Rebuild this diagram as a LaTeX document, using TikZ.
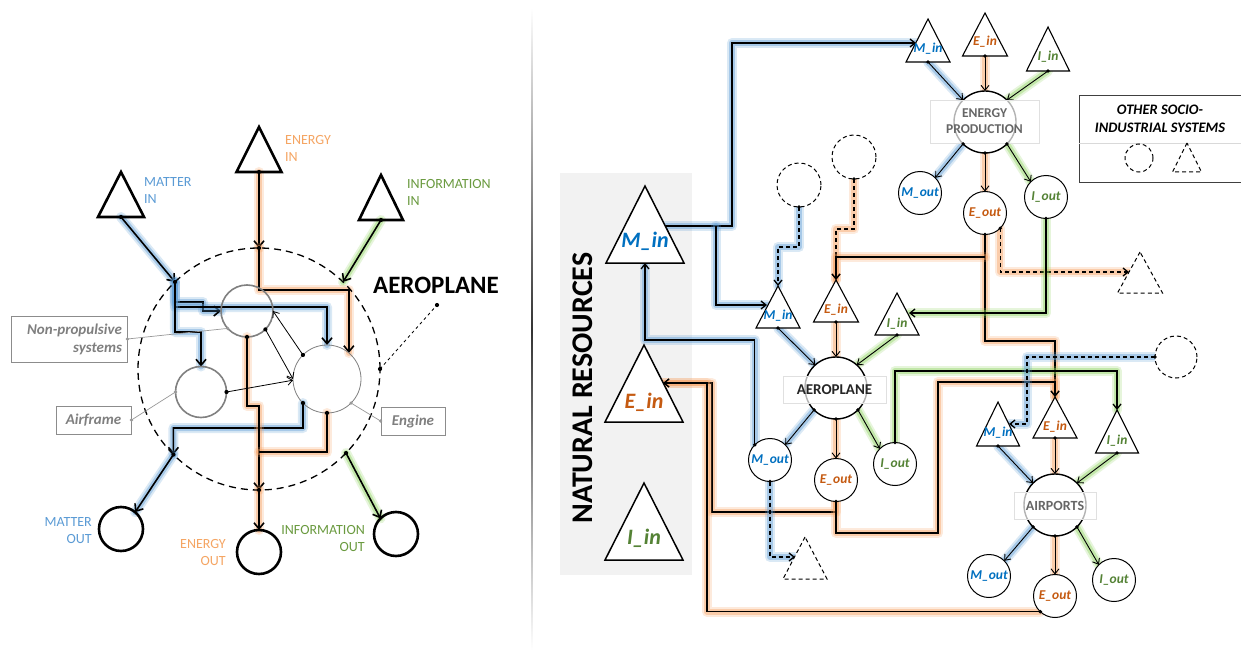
\documentclass[tikz,border=0pt]{standalone}
\usepackage{fontspec}
\setmainfont{Carlito}
\usetikzlibrary{arrows.meta}
\pgfdeclarelayer{bottom}
\pgfdeclarelayer{background}
\pgfsetlayers{bottom,background,main}
\definecolor{cB}{HTML}{5B9BD5}
\definecolor{cO}{HTML}{F5A563}
\definecolor{cG}{HTML}{6A9A3F}
\definecolor{dB}{HTML}{0070C0}
\definecolor{dO}{HTML}{C55A11}
\definecolor{dG}{HTML}{548235}
\definecolor{gB}{HTML}{5B9BD5}
\definecolor{gO}{HTML}{F7A060}
\definecolor{gG}{HTML}{8ED45E}
\definecolor{txtgray}{HTML}{7F7F7F}
\newcommand\fs[2]{\fontsize{#1}{#2}\selectfont}
\newcommand\mytri[6]{\draw[#6] (#2,#3) -- (#2-#5,#4) -- (#2+#5,#4) -- cycle;
  \coordinate (#1-a) at (#2,#3); \coordinate (#1-b) at (#2,#4);}
\newcommand\dt[1]{\fill (#1) circle (2.1pt);}
\tikzset{
  gl/.style={preaction={draw=#1,solid,arrows=-,line width=10pt,opacity=.22,line cap=round,line join=round},
             preaction={draw=#1,solid,arrows=-,line width=6pt,opacity=.4,line cap=round,line join=round}},
  gb/.style={gl=gB}, go/.style={gl=gO}, gg/.style={gl=gG},
  fL/.style={line width=1.6pt},
  cr/.style={line width=1.3pt},
  rad/.style={line width=.9pt,-{Straight Barb[length=5pt,width=8pt]}},
  aL/.style={-{Straight Barb[length=6pt,width=10pt]}},
  aR/.style={-{Straight Barb[length=5pt,width=8pt]}},
  dsh/.style={dash pattern=on 4pt off 3pt},
  icirc/.style={circle,draw=black!50,inner sep=0pt,outer sep=0pt},
  bcirc/.style={circle,draw,line width=2.6pt,minimum size=44pt,inner sep=0pt,outer sep=0pt},
  lbl/.style={inner sep=0pt,font=\fs{14}{17}},
  cbox/.style={draw=black!45,line width=.9pt,inner sep=0pt,text=txtgray,font=\fs{15}{18}\bfseries\itshape},
  cline/.style={black!40,line width=.7pt},
  tri/.style={draw,fill=white,line width=1.1pt,line join=miter},
  btri/.style={tri,line width=1.5pt},
  dtri/.style={tri,line width=1pt,dsh},
  tt/.style={inner sep=0pt,font=\fs{13.5}{16}\bfseries\itshape},
  bt/.style={inner sep=0pt,font=\fs{22}{26}\bfseries\itshape},
  oc/.style={circle,draw,fill=white,line width=1pt,minimum size=43pt,inner sep=0pt,outer sep=0pt,font=\fs{13.5}{16}\bfseries\itshape},
  dc/.style={circle,draw,fill=white,line width=1pt,dsh,minimum size=44pt,inner sep=0pt,outer sep=0pt},
  sys/.style={circle,draw,fill=white,line width=1.4pt,minimum size=62pt,inner sep=0pt,outer sep=0pt},
  lab/.style={fill=white,fill opacity=.7,text opacity=1,draw=black!12,line width=.6pt,inner sep=0pt,font=\fs{13.5}{16}\bfseries,align=center},
}
\begin{document}
\begin{tikzpicture}[x=1pt,y=-1pt]
\useasboundingbox (0,0) rectangle (1241,655);
\begin{pgfonlayer}{bottom}
\fill[white] (0,0) rectangle (1241,655);
\fill[black!5] (560,173) rectangle (692,575);
\end{pgfonlayer}

% separator
\shade[top color=white,bottom color=black!80] (531.2,8) rectangle (532.8,330);
\shade[top color=black!80,bottom color=white] (531.2,330) rectangle (532.8,650);

%%%%%%%%%%%%%%%% LEFT PANEL
\node[circle,draw,line width=1.3pt,dash pattern=on 7pt off 5pt,minimum size=242pt,inner sep=0pt,outer sep=0pt] (DC) at (259,369) {};
\node[icirc,line width=1.6pt,minimum size=52pt] (NP) at (247,311) {};
\node[icirc,line width=1.6pt,minimum size=51pt] (AF) at (201,392) {};
\node[icirc,line width=.8pt,minimum size=68pt] (EN) at (327,379) {};

\mytri{MI}{121}{172}{217}{23}{line width=2.6pt,line join=miter}
\mytri{EI}{259}{127}{172}{22.5}{line width=2.6pt,line join=miter}
\mytri{II}{381}{175}{220}{22}{line width=2.6pt,line join=miter}
\node[bcirc] (MO) at (121,529) {};
\node[bcirc] (EO) at (259,552) {};
\node[bcirc] (IO) at (396,534) {};

\node[lbl,anchor=north west,align=left,text=cB] (lMI) at (144,177) {MATTER\\IN};
\node[lbl,anchor=north west,align=left,text=cO] (lEI) at (285,135) {ENERGY\\IN};
\node[lbl,anchor=north west,align=left,text=cG] (lII) at (407,179) {INFORMATION\\IN};
\node[lbl,anchor=north east,align=right,text=cB] (lMO) at (92,517) {MATTER\\OUT};
\node[lbl,anchor=north east,align=right,text=cO] (lEO) at (226,539) {ENERGY\\OUT};
\node[lbl,anchor=north east,align=right,text=cG] (lIO) at (365,525) {INFORMATION\\OUT};
\node[inner sep=0pt,font=\fs{25}{30}\bfseries] (AEt) at (436,285) {AEROPLANE};
\coordinate (AEp) at (437,305);

\begin{pgfonlayer}{background}
\draw[gb,fL,aL] (MI-b) -- (DC.134);
\draw[go,fL,aL] (EI-b) -- (DC.90);
\draw[gg,fL,aL] (II-b) -- (DC.46);
% matter inside
\draw[gb,fL,aL] (DC.134) -- (175,302) -- (203,302) -- (203,311) -- (NP.west);
\draw[gb,fL,aL] (DC.134) -- (175,307) -| (EN.north);
\draw[gb,fL,aL] (DC.134) -- (175,332) -| (AF.north);
\draw[gb,fL,aL] (EN.225) -- (303,428) -| (DC.225);
\draw[gb,fL,aL] (DC.225) -- (MO.50);
% energy inside
\draw[go,fL,aL] (DC.90) -- (259,290) -| (EN.50);
\draw[go,fL,aL] (NP.south) -- (247,406) -| (DC.270);
\draw[go,fL] (EN.south) |- (259,452);
\draw[go,fL,aL] (DC.270) -- (EO.north);
% information out
\draw[gg,fL,aL] (DC.-44) -- (IO.135);
\end{pgfonlayer}
% thin exchanges
\draw[line width=.8pt,aR] (NP.-45) -- (EN.180);
\draw[line width=.8pt,aR] (EN.135) -- (NP.east);
\draw[line width=.8pt,aR] (AF.east) -- (EN.182);
\draw[line width=.8pt,dashed] (DC.0) -- (AEp);
\foreach \p in {MI-b,EI-b,II-b,DC.134,DC.90,EN.225,DC.225,NP.south,EN.south,DC.270,DC.-44,NP.-45,EN.135,AF.east,DC.0,AEp} {\dt{\p}}

% callouts
\node[cbox,minimum width=116pt,minimum height=46pt,text width=106pt,align=right] (NPbox) at (69,339) {Non-propulsive\\systems};
\node[cbox,minimum width=75pt,minimum height=28pt] (AFbox) at (93.5,420) {Airframe};
\node[cbox,minimum width=64pt,minimum height=28pt] (ENbox) at (413,421) {Engine};
\draw[cline] (NPbox.east) -- (NP.222);
\draw[cline] (AFbox.east) -- (AF.west);
\draw[cline] (ENbox.west) -- (EN.-45);
\foreach \p in {NPbox.east,NP.222,AFbox.east,AF.west,ENbox.west,EN.-45} {\fill[black!40] (\p) circle (1.8pt);}

%%%%%%%%%%%%%%%% RIGHT PANEL
\node[rotate=90,inner sep=0pt,font=\fs{30}{36}\bfseries] (NR) at (583,388) {NATURAL RESOURCES};

% big triangles
\mytri{BM}{645}{186}{263}{39}{btri}
\mytri{BE}{644}{345}{422}{39}{btri}
\mytri{BI}{644}{483}{560}{39}{btri}
\node[bt,text=dB] (tBM) at (645,241) {M\_in};
\node[bt,text=dO] (tBE) at (644,402) {E\_in};
\node[bt,text=dG] (tBI) at (644,538) {I\_in};

% energy production cluster
\mytri{EPM}{928}{19}{62}{22}{tri}
\mytri{EPE}{985}{13}{56}{22.5}{tri}
\mytri{EPI}{1048}{27}{71}{21.5}{tri}
\node[tt,text=dB] (tEPM) at (928,49) {M\_in};
\node[tt,text=dO] (tEPE) at (985,42) {E\_in};
\node[tt,text=dG] (tEPI) at (1048,57) {I\_in};
\node[sys] (EP) at (985,122) {};
\node[lab,minimum width=109pt,minimum height=43pt,text=black!60] (EPl) at (984.5,121.5) {ENERGY\\PRODUCTION};
\node[oc,text=dB] (EPMo) at (920,193) {M\_out};
\node[oc,text=dO] (EPEo) at (985,213) {E\_out};
\node[oc,text=dG] (EPIo) at (1046,197) {I\_out};

% aeroplane cluster
\mytri{APM}{778}{286}{328}{22}{tri}
\mytri{APE}{836}{280}{322}{22.5}{tri}
\mytri{API}{897}{293}{335}{22}{tri}
\node[tt,text=dB] (tAPM) at (778,316) {M\_in};
\node[tt,text=dO] (tAPE) at (836,310) {E\_in};
\node[tt,text=dG] (tAPI) at (897,324) {I\_in};
\node[sys] (AP) at (836,388) {};
\node[lab,minimum width=103pt,minimum height=27pt,text=black!85,font=\fs{15}{18}\bfseries] (APl) at (834.5,389.5) {AEROPLANE};
\node[oc,text=dB] (APMo) at (770,460) {M\_out};
\node[oc,text=dO] (APEo) at (836,480) {E\_out};
\node[oc,text=dG] (APIo) at (895,464) {I\_out};

% airports cluster
\mytri{ARM}{998}{402}{446}{21.5}{tri}
\mytri{ARE}{1055}{397}{438}{22}{tri}
\mytri{ARI}{1117}{410}{453}{21.5}{tri}
\node[tt,text=dB] (tARM) at (998,433) {M\_in};
\node[tt,text=dO] (tARE) at (1055,427) {E\_in};
\node[tt,text=dG] (tARI) at (1117,441) {I\_in};
\node[sys] (AR) at (1055,505) {};
\node[lab,minimum width=82pt,minimum height=27pt,text=black!60,font=\fs{14}{17}\bfseries] (ARl) at (1055,505.5) {AIRPORTS};
\node[oc,text=dB] (ARMo) at (989,576) {M\_out};
\node[oc,text=dO] (AREo) at (1055,596) {E\_out};
\node[oc,text=dG] (ARIo) at (1114,580) {I\_out};

% other systems (dashed)
\node[dc] (DC1) at (799,185) {};
\node[dc] (DC2) at (854,157) {};
\node[dc,minimum size=42pt] (DC3) at (1176,357) {};
\mytri{DT1}{805}{537}{579}{22}{dtri}
\mytri{DT2}{1140}{252}{293}{22.5}{dtri}

% free ends of connectors
\coordinate (BMr) at (665,226);
\coordinate (br1) at (716,226);
\coordinate (EPMl) at (916,43);
\coordinate (APMl) at (767,305);
\coordinate (BEr) at (663,383);
\coordinate (j1) at (985,257);
\coordinate (DT2l) at (1129,272);
\coordinate (DT1l) at (795,557);
\coordinate (APIr) at (909,313);
\coordinate (ARMr) at (1009,424);

\begin{pgfonlayer}{background}
% radial arrows
\draw[gb,rad] (EPM-b) -- (EP.135);
\draw[go,rad] (EPE-b) -- (EP.90);
\draw[gg,rad] (EPI-b) -- (EP.45);
\draw[gb,rad] (EP.225) -- (EPMo.45);
\draw[go,rad] (EP.270) -- (EPEo.90);
\draw[gg,rad] (EP.315) -- (EPIo.135);
\draw[gb,rad] (APM-b) -- (AP.132);
\draw[go,rad] (APE-b) -- (AP.90);
\draw[gg,rad] (API-b) -- (AP.48);
\draw[gb,rad] (AP.225) -- (APMo.45);
\draw[go,rad] (AP.270) -- (APEo.90);
\draw[gg,rad] (AP.315) -- (APIo.135);
\draw[gb,rad] (ARM-b) -- (AR.135);
\draw[go,rad] (ARE-b) -- (AR.90);
\draw[gg,rad] (ARI-b) -- (AR.45);
\draw[gb,rad] (AR.225) -- (ARMo.45);
\draw[go,rad] (AR.270) -- (AREo.90);
\draw[gg,rad] (AR.315) -- (ARIo.135);
% cross connections
\draw[gb,cr,aR] (BMr) -- (732,226) |- (EPMl);
\draw[gb,cr,aR] (br1) |- (APMl);
\draw[gb,cr,aR] (APMo.135) |- (645,340) -- (BM-b);
\draw[gb,cr,dsh,aR] (DC1.south) -- (799,247) -| (APM-a);
\draw[go,cr,dsh,aR] (DC2.south) -- (854,229) -| (APE-a);
\draw[go,cr,aR] (EPEo.south) -- (985,341) -| (ARE-a);
\draw[go,cr,aR] (j1) -| (APE-a);
\draw[go,cr,dsh,aR] (EPEo.-45) |- (DT2l);
\draw[gg,cr,aR] (EPIo.south) |- (APIr);
\draw[go,cr,aR] (APEo.south) -- (836,512) -| (712,383) -- (BEr);
\draw[go,cr,aR] (APEo.south) -- (836,533) -| (938,382) -| (ARE-a);
\draw[gg,cr,aR] (APIo.north) -- (895,371) -| (ARI-a);
\draw[gb,cr,dsh,aR] (DC3.west) -| (1027,424) -- (ARMr);
\draw[go,cr,aR] (AREo.227) -| (707,383) -- (BEr);
\draw[gb,cr,dsh,aR] (APMo.south) |- (DT1l);
\end{pgfonlayer}

\foreach \p in {EPM-b,EPE-b,EPI-b,EP.225,EP.270,EP.315,APM-b,APE-b,API-b,AP.225,AP.270,AP.315,ARM-b,ARE-b,ARI-b,AR.225,AR.270,AR.315,APMo.135,DC1.south,DC2.south,EPEo.south,EPEo.-45,EPIo.south,APEo.south,APIo.north,DC3.west,AREo.227,APMo.south} {\fill (\p) circle (1.9pt);}

% legend
\node[draw=black!75,line width=1pt,minimum width=162pt,minimum height=87pt,inner sep=0pt] (LG) at (1160,139.5) {};
\draw[black!15,line width=.6pt] (1079,143) -- (1241,143);
\node[inner sep=0pt,align=center,font=\fs{14.5}{18}\bfseries\itshape] (LGt) at (1160,119) {OTHER SOCIO-\\INDUSTRIAL SYSTEMS};
\node[circle,draw,line width=1pt,dsh,minimum size=28pt,inner sep=0pt] (LGc) at (1139,158) {};
\mytri{LGtr}{1187}{143}{172}{14.5}{dtri}
\end{tikzpicture}
\end{document}
